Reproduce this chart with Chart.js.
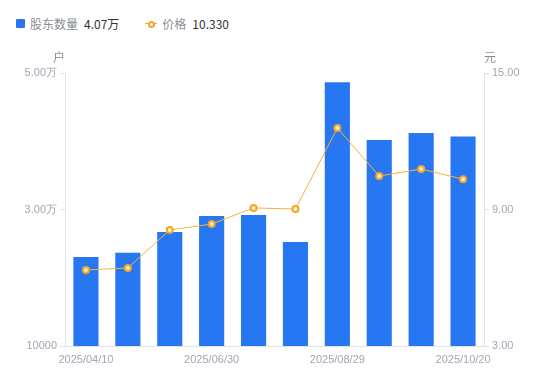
<!DOCTYPE html>
<html>
<head>
    <title>股东数量与价格</title>
    <script src="https://cdn.jsdelivr.net/npm/chart.js"></script>
    <style>
        body { margin: 0; background: #fff; font-family: "Noto Sans CJK SC", "Noto Sans", sans-serif; }
        #wrap { position: relative; width: 550px; height: 381px; }
        #legend { position: absolute; left: 16px; top: 15px; font-size: 12px; color: #8a8d99; display: flex; align-items: center; }
        .item { display: flex; align-items: center; margin-right: 26px; }
        .item b { font-weight: normal; color: #333; margin-left: 6px; }
        .sq { width: 9px; height: 9px; background: #2777f2; border-radius: 1px; margin-right: 5px; }
        .ln { position: relative; width: 12px; height: 8px; margin-right: 5px; }
        .ln:before { content: ""; position: absolute; left: 0; right: 0; top: 3.5px; height: 1px; background: #f5a623; }
        .ln:after { content: ""; position: absolute; left: 3px; top: 1px; width: 3px; height: 3px; border: 2px solid #f5a623; border-radius: 50%; background: #fff; }
        canvas { position: absolute; left: 0; top: 0; }
    </style>
</head>
<body>
<div id="wrap">
    <div id="legend">
        <div class="item"><span class="sq"></span>股东数量<b>4.07万</b></div>
        <div class="item"><span class="ln"></span>价格<b>10.330</b></div>
    </div>
    <canvas id="chart" width="550" height="381"></canvas>
</div>

<script>
    var dates = ['2025/04/10', '2025/04/30', '2025/05/20', '2025/06/30', '2025/07/10',
                 '2025/07/31', '2025/08/29', '2025/09/10', '2025/09/30', '2025/10/20'];
    var holders = [23050, 23650, 26700, 29050, 29200, 25250, 48650, 40200, 41200, 40700];
    var prices = [6.34, 6.43, 8.10, 8.36, 9.07, 9.02, 12.58, 10.47, 10.78, 10.33];
    var leftTicks = [10000, 30000, 50000];
    var rightTicks = [3, 9, 15];

    var tickColor = '#a3a6b4';
    var lineColor = '#e3e4e8';
    var tickFont = { size: 11, family: '"Liberation Sans", Arial, sans-serif' };

    // unit labels above the two value axes
    var unitLabels = {
        id: 'unitLabels',
        afterDraw: function (chart) {
            var ctx = chart.ctx;
            ctx.save();
            ctx.font = '12px "Noto Sans CJK SC"';
            ctx.fillStyle = '#8a8d99';
            ctx.textBaseline = 'middle';
            ctx.textAlign = 'center';
            ctx.fillText('户', 59, 57);
            ctx.fillText('元', 490, 57);
            ctx.restore();
        }
    };

    function fmtHolders(v) {
        if (v >= 20000) return (v / 10000).toFixed(2) + '万';
        return String(v);
    }

    new Chart(document.getElementById('chart').getContext('2d'), {
        type: 'bar',
        data: {
            labels: dates,
            datasets: [{
                type: 'line',
                label: '价格',
                data: prices,
                yAxisID: 'y1',
                borderColor: '#f5b335',
                borderWidth: 1,
                pointRadius: 3,
                pointBorderWidth: 2,
                pointBorderColor: '#f5a623',
                pointBackgroundColor: '#fff3d6',
                tension: 0,
                order: 0
            }, {
                label: '股东数量',
                data: holders,
                yAxisID: 'y',
                backgroundColor: '#2777f2',
                barPercentage: 0.6,
                categoryPercentage: 1,
                order: 1
            }]
        },
        options: {
            responsive: false,
            animation: false,
            layout: { padding: { top: 73, left: 0, right: 0, bottom: 0 } },
            plugins: { legend: { display: false }, tooltip: { enabled: false } },
            scales: {
                x: {
                    grid: { display: false, drawTicks: false },
                    border: { display: true, color: lineColor },
                    ticks: {
                        autoSkip: false,
                        maxRotation: 0,
                        padding: 7,
                        color: tickColor,
                        font: tickFont,
                        callback: function (v, i) { return i % 3 === 0 ? dates[i] : ''; }
                    },
                    afterFit: function (s) { s.height = 35; }
                },
                y: {
                    position: 'left',
                    min: 10000,
                    max: 50000,
                    afterBuildTicks: function (s) { s.ticks = leftTicks.map(function (v) { return { value: v }; }); },
                    grid: { drawOnChartArea: false, tickLength: 5, color: lineColor },
                    border: { display: true, color: lineColor },
                    ticks: {
                        color: tickColor,
                        padding: 3,
                        font: tickFont,
                        callback: function (v) { return fmtHolders(v); }
                    },
                    afterFit: function (s) { s.width = 65; }
                },
                y1: {
                    position: 'right',
                    min: 3,
                    max: 15,
                    afterBuildTicks: function (s) { s.ticks = rightTicks.map(function (v) { return { value: v }; }); },
                    grid: { drawOnChartArea: false, tickLength: 5, color: lineColor },
                    border: { display: true, color: lineColor },
                    ticks: {
                        color: tickColor,
                        padding: 3,
                        font: tickFont,
                        callback: function (v) { return v.toFixed(2); }
                    },
                    afterFit: function (s) { s.width = 66; }
                }
            }
        },
        plugins: [unitLabels]
    });
</script>
</body>
</html>
